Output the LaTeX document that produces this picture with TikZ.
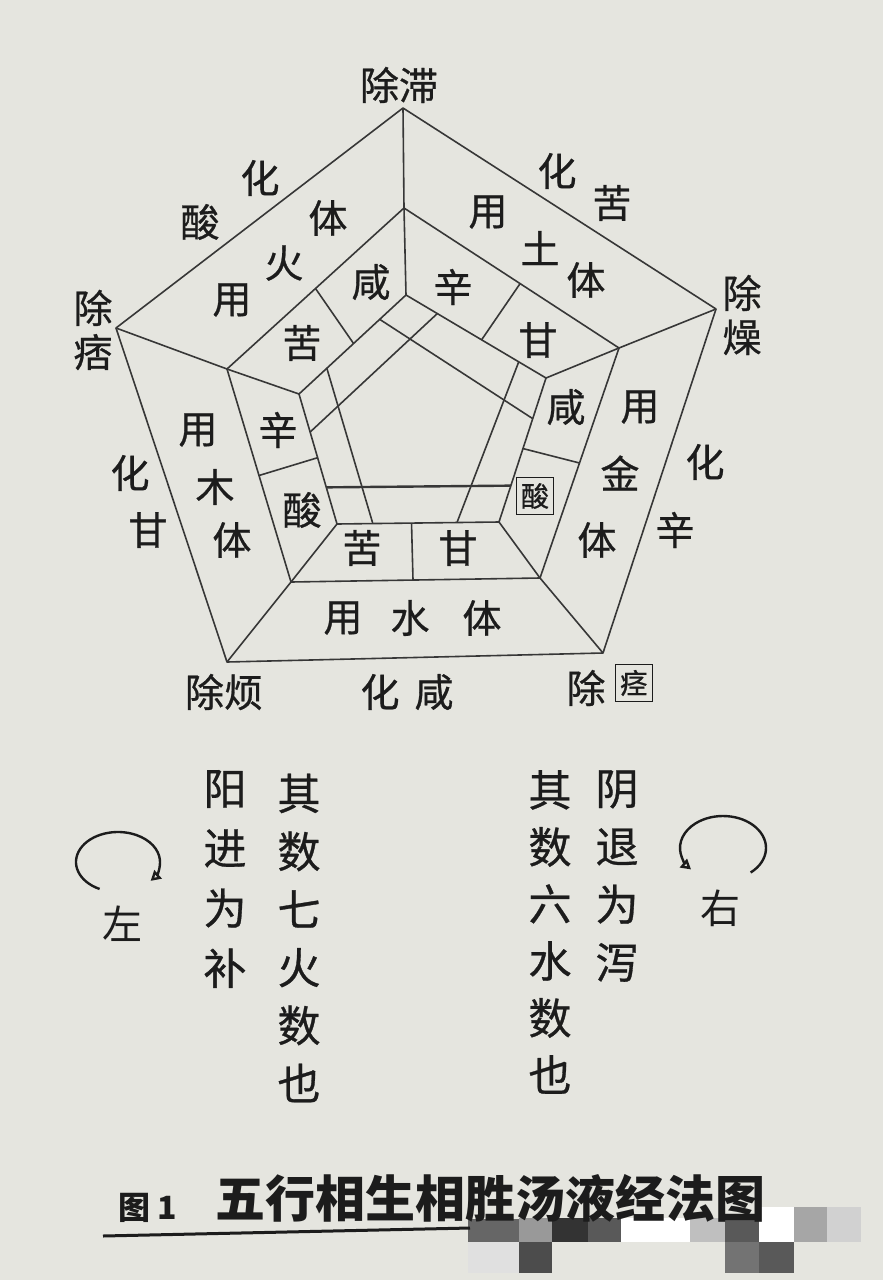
\documentclass[tikz,border=0pt]{standalone}
\usepackage{fontspec}
\setmainfont{Noto Sans CJK SC}
\newfontfamily\heiti{Noto Sans CJK SC}[FakeBold=0.7]
\usetikzlibrary{calc,arrows.meta}
\definecolor{paper}{RGB}{229,229,223}
\definecolor{ink}{RGB}{28,28,28}
\tikzset{
  zi/.style={inner sep=0pt, text=ink, font=\heiti\fontsize{39}{39}\selectfont},
  boxzi/.style={zi, draw=ink, line width=1.6pt, minimum size=37pt, font=\heiti\fontsize{28}{28}\selectfont},
  column/.style={zi, align=center, font=\heiti\fontsize{43}{58}\selectfont},
  pair/.style={zi, align=center, font=\heiti\fontsize{39}{44}\selectfont},
  rim/.style={draw=ink!88, line width=1.6pt, line join=round},
  spin/.style={draw=ink, line width=2.4pt, -{Triangle[open,length=10pt,width=11pt]}},
}

\begin{document}
\begin{tikzpicture}[x=1pt,y=-1pt]
\fill[paper] (0,0) rectangle (883,1280);
\useasboundingbox (0,0) rectangle (883,1280);

\coordinate (o1) at (403,108);
\coordinate (o2) at (716,309);
\coordinate (o3) at (603,653);
\coordinate (o4) at (227,662);
\coordinate (o5) at (116,328);

\coordinate (b1) at (404,208);
\coordinate (b2) at (619,348);
\coordinate (b3) at (540,578);
\coordinate (b4) at (291,582);
\coordinate (b5) at (227,369);

\coordinate (c1) at (406,295);
\coordinate (c2) at (546,378);
\coordinate (c3) at (499,522);
\coordinate (c4) at (337,524);
\coordinate (c5) at (299,394);

\coordinate (d1) at (410,339);
\coordinate (d2) at (504,400);
\coordinate (d3) at (471,486);
\coordinate (d4) at (362,487);
\coordinate (d5) at (338,406);

\draw[rim] (o1) -- (o2) -- (o3) -- (o4) -- (o5) -- cycle;
\draw[rim] (b1) -- (b2) -- (b3) -- (b4) -- (b5) -- cycle;
\draw[rim] (c1) -- (c2) -- (c3) -- (c4) -- (c5) -- cycle;

\draw[rim] (o1) -- (b1) -- (c1);
\draw[rim] (o2) -- (b2) -- (c2);
\draw[rim] (o3) -- (b3) -- (c3);
\draw[rim] (o4) -- (b4) -- (c4);
\draw[rim] (o5) -- (b5) -- (c5);

\draw[rim] ($(b5)!0.5!(b1)$) -- ($(c5)!0.51!(c1)$);
\draw[rim] ($(b1)!0.54!(b2)$) -- ($(c1)!0.54!(c2)$);
\draw[rim] ($(b2)!0.5!(b3)$) -- ($(c2)!0.49!(c3)$);
\draw[rim] ($(b3)!0.51!(b4)$) -- ($(c3)!0.54!(c4)$);
\draw[rim] ($(b4)!0.5!(b5)$) -- ($(c4)!0.51!(c5)$);

\coordinate (p1) at (intersection of d1--d2 and c5--c1);
\coordinate (q1) at (intersection of d1--d2 and c2--c3);
\coordinate (p2) at (intersection of d2--d3 and c1--c2);
\coordinate (q2) at (intersection of d2--d3 and c3--c4);
\coordinate (p3) at (intersection of d3--d4 and c2--c3);
\coordinate (q3) at (intersection of d3--d4 and c4--c5);
\coordinate (p4) at (intersection of d4--d5 and c3--c4);
\coordinate (q4) at (intersection of d4--d5 and c5--c1);
\coordinate (p5) at (intersection of d5--d1 and c4--c5);
\coordinate (q5) at (intersection of d5--d1 and c1--c2);

\draw[rim] (p1) -- (q1);
\draw[rim] (p2) -- (q2);
\draw[rim, line width=2.4pt] (p3) -- (q3);
\draw[rim] (p4) -- (q4);
\draw[rim] (p5) -- (q5);

\node[zi] (chu-zhi) at (399,85) {除滞};
\node[zi] (hua-f) at (260,178) {化};
\node[zi] (suan-f) at (200,222) {酸};
\node[zi] (hua-e) at (557,171) {化};
\node[zi] (ku-e) at (612,203) {苦};
\node[pair] (chu-zao) at (742,315) {除\\燥};
\node[zi] (hua-m) at (705,462) {化};
\node[zi] (xin-m) at (675,530) {辛};
\node[zi] (chu-jing) at (586,688) {除};
\node[boxzi] (jing) at (634,683) {痉};
\node[zi] (hua-w) at (380,692) {化};
\node[zi] (xian-w) at (434,692) {咸};
\node[zi] (chu-fan) at (224,692) {除烦};
\node[zi] (hua-mu) at (130,473) {化};
\node[zi] (gan-mu) at (148,530) {甘};
\node[pair] (chu-pi) at (93,330) {除\\痞};

\node[zi] (ti-f) at (328,218) {体};
\node[zi] (huo) at (284,263) {火};
\node[zi] (yong-f) at (232,300) {用};
\node[zi] (yong-e) at (488,212) {用};
\node[zi] (tu) at (540,248) {土};
\node[zi] (ti-e) at (586,280) {体};
\node[zi] (yong-m) at (640,407) {用};
\node[zi] (jin) at (620,473) {金};
\node[zi] (ti-m) at (597,540) {体};
\node[zi] (yong-w) at (343,618) {用};
\node[zi] (shui) at (410,618) {水};
\node[zi] (ti-w) at (482,618) {体};
\node[zi] (yong-mu) at (198,430) {用};
\node[zi] (mu) at (215,487) {木};
\node[zi] (ti-mu) at (232,540) {体};

\node[zi] (xian-f) at (371,282) {咸};
\node[zi] (ku-f) at (302,343) {苦};
\node[zi] (xin-e) at (453,287) {辛};
\node[zi] (gan-e) at (538,340) {甘};
\node[zi] (xian-m) at (566,407) {咸};
\node[boxzi] (suan-m) at (535,496) {酸};
\node[zi] (ku-w) at (362,548) {苦};
\node[zi] (gan-w) at (458,548) {甘};
\node[zi] (xin-mu) at (278,430) {辛};
\node[zi] (suan-mu) at (302,510) {酸};

\node[column, font=\heiti\fontsize{43}{60}\selectfont] (yang) at (225,879) {阳\\进\\为\\补};
\node[column] (qi-qi) at (299,938) {其\\数\\七\\火\\数\\也};
\node[column, font=\heiti\fontsize{43}{57}\selectfont] (qi-liu) at (550,932) {其\\数\\六\\水\\数\\也};
\node[column] (yin) at (617,876) {阴\\退\\为\\泻};

\coordinate (zuo-c) at (118,862);
\coordinate (you-c) at (723,848);
\draw[spin] ($(zuo-c)+(116:42 and 30)$) arc[start angle=116, end angle=399, x radius=42, y radius=30];
\draw[spin] ($(you-c)+(50:43 and 32)$) arc[start angle=50, end angle=-222, x radius=43, y radius=32];
\node[zi, font=\fontsize{40}{40}\selectfont] (zuo) at (122,924) {左};
\node[zi, font=\fontsize{40}{40}\selectfont] (you) at (720,908) {右};

\foreach \xa/\ya/\xb/\yb/\g in {468/1219/519/1242/60, 519/1218/552/1242/40, 552/1218/588/1242/80,
  588/1218/621/1242/65, 621/1218/690/1242/0, 690/1218/725/1242/25, 725/1214/759/1242/65,
  759/1207/794/1242/0, 794/1207/827/1242/35, 827/1207/861/1242/18,
  468/1242/519/1273/12, 519/1242/552/1273/70, 725/1242/759/1273/55, 759/1242/794/1273/65}
  \fill[black!\g] (\xa,\ya) rectangle (\xb,\yb);

\node[zi, font=\bfseries\fontsize{32}{32}\selectfont] (tu-hao) at (148,1208) {图 1};
\node[zi, font=\bfseries\fontsize{50}{50}\selectfont] (tu-ming) at (490,1198) {五行相生相胜汤液经法图};
\coordinate (rule-a) at (103,1236);
\coordinate (rule-b) at (470,1228);
\draw[ink, line width=3pt] (rule-a) -- (rule-b);
\end{tikzpicture}
\end{document}
